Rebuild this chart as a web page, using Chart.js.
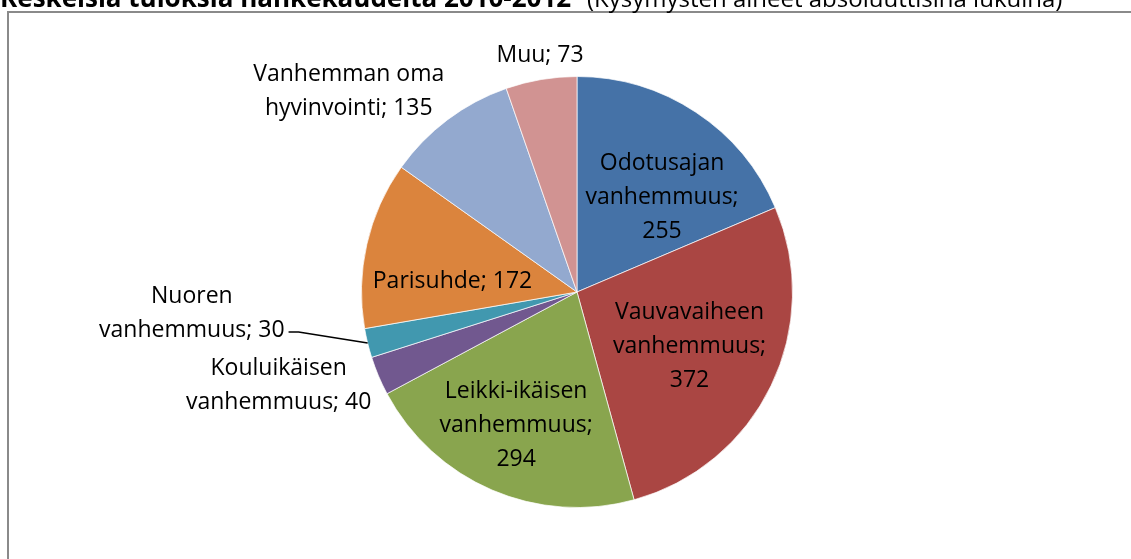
<!DOCTYPE html>
<html>
<head>
<meta charset="utf-8">
<script src="https://cdn.jsdelivr.net/npm/chart.js@4.4.1/dist/chart.umd.min.js"></script>
<style>
  html, body { margin: 0; padding: 0; background: #fff; }
  #wrap { width: 1131px; height: 559px; position: relative; }
</style>
</head>
<body>
<div id="wrap"><canvas id="pieChart" width="1131" height="559"></canvas></div>
<script>
// categories and counts (clockwise from 12 o'clock)
const categories = [
  'Odotusajan vanhemmuus',
  'Vauvavaiheen vanhemmuus',
  'Leikki-ikäisen vanhemmuus',
  'Kouluikäisen vanhemmuus',
  'Nuoren vanhemmuus',
  'Parisuhde',
  'Vanhemman oma hyvinvointi',
  'Muu'
];
const counts = [255, 372, 294, 40, 30, 172, 135, 73];

// how each data label wraps ({v} = value)
const labelLines = [
  ['Odotusajan', 'vanhemmuus;', '{v}'],
  ['Vauvavaiheen', 'vanhemmuus;', '{v}'],
  ['Leikki-ikäisen', 'vanhemmuus;', '{v}'],
  ['Kouluikäisen', 'vanhemmuus; {v}'],
  ['Nuoren', 'vanhemmuus; {v}'],
  ['Parisuhde; {v}'],
  ['Vanhemman oma', 'hyvinvointi; {v}'],
  ['Muu; {v}']
];

const titleBold = 'Keskeisiä tuloksia hankekaudelta 2010-2012';
const titleNormal = '(Kysymysten aiheet absoluuttisina lukuina)';

const colors = ['#4572A7', '#AA4643', '#89A54E', '#71588F', '#4198AF', '#DB843D', '#93A9CF', '#D19392'];

// label placement: shift from slice mid-angle (deg) and distance as share of radius
const labelShift = [8.5, 0, 1.3, 5.6, 10.6, -7.8, -11.8, 0.7];
const labelDist  = [0.59, 0.58, 0.68, 1.45, 1.79, 0.58, 1.41, 1.11];
const leader     = [false, false, false, false, true, false, false, false];

const FONT = '"Open Sans", "Noto Sans", sans-serif';
const LINE_H = 34;

const frameAndTitle = {
  id: 'frameAndTitle',
  beforeDraw(chart) {
    const ctx = chart.ctx;
    ctx.save();
    ctx.fillStyle = '#fff';
    ctx.fillRect(0, 0, chart.width, chart.height);
    // outer frame (only left & top edges show in the crop)
    ctx.strokeStyle = '#8a8a8a';
    ctx.lineWidth = 2;
    ctx.beginPath();
    ctx.moveTo(8, chart.height + 5);
    ctx.lineTo(8, 12);
    ctx.lineTo(chart.width + 5, 12);
    ctx.stroke();
    // clipped title
    ctx.fillStyle = '#000';
    ctx.textBaseline = 'alphabetic';
    ctx.textAlign = 'left';
    ctx.font = 'bold 26px ' + FONT;
    ctx.fillText(titleBold, 0, 7, 577);
    ctx.font = '24px ' + FONT;
    ctx.fillText(titleNormal, 587, 7, 481);
    ctx.restore();
  }
};

const sliceLabels = {
  id: 'sliceLabels',
  afterDatasetsDraw(chart) {
    const ctx = chart.ctx;
    const meta = chart.getDatasetMeta(0);
    ctx.save();
    ctx.font = '23px ' + FONT;
    ctx.fillStyle = '#000';
    ctx.strokeStyle = '#000';
    ctx.textAlign = 'center';
    ctx.textBaseline = 'middle';
    meta.data.forEach((arc, i) => {
      const p = arc.getProps(['x', 'y', 'startAngle', 'endAngle', 'outerRadius'], true);
      const mid = (p.startAngle + p.endAngle) / 2;
      const a = mid + labelShift[i] * Math.PI / 180;
      const d = labelDist[i] * p.outerRadius;
      const cx = p.x + Math.cos(a) * d;
      const cy = p.y + Math.sin(a) * d;
      const lines = labelLines[i].map(s => s.replace('{v}', counts[i]));
      const n = lines.length;
      lines.forEach((s, k) => {
        ctx.fillText(s, cx, cy + (k - (n - 1) / 2) * LINE_H);
      });
      if (leader[i]) {
        const last = lines[n - 1];
        const w = ctx.measureText(last).width;
        const ly = cy + ((n - 1) / 2) * LINE_H + 2;
        const lx = cx + w / 2 + 4;
        const ex = p.x + Math.cos(mid) * p.outerRadius;
        const ey = p.y + Math.sin(mid) * p.outerRadius;
        ctx.lineWidth = 1.5;
        ctx.beginPath();
        ctx.moveTo(lx, ly);
        ctx.lineTo(lx + 10, ly);
        ctx.lineTo(ex, ey);
        ctx.stroke();
      }
    });
    ctx.restore();
  }
};

const ctx = document.getElementById('pieChart').getContext('2d');
new Chart(ctx, {
  type: 'pie',
  data: {
    labels: categories,
    datasets: [{
      data: counts,
      backgroundColor: colors,
      borderColor: 'rgba(255,255,255,0.7)',
      borderWidth: 1
    }]
  },
  options: {
    responsive: false,
    animation: false,
    devicePixelRatio: 1,
    layout: { padding: { left: 100, right: 77, top: 76, bottom: 51 } },
    plugins: {
      legend: { display: false },
      title: { display: false },
      tooltip: { enabled: false }
    }
  },
  plugins: [frameAndTitle, sliceLabels]
});
</script>
</body>
</html>
